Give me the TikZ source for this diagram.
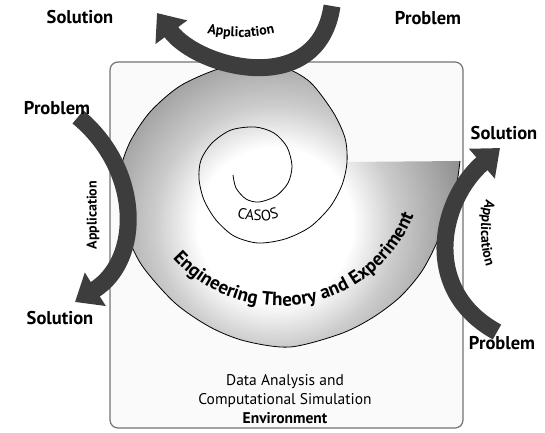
\documentclass[tikz,border=0pt]{standalone}
\usepackage{fontspec}
\setmainfont{PT Sans}
\usepackage{tikz}
\usetikzlibrary{arrows.meta, decorations.text}
\definecolor{arrowgray}{HTML}{3D3D3D}
\pgfdeclareradialshading{shellshade}{\pgfpointorigin}{color(0bp)=(white); color(9bp)=(white); color(14bp)=(black!20); color(19bp)=(black!34); color(23bp)=(black!45); color(50bp)=(black!45)}

\begin{document}
\begin{tikzpicture}[x=1pt, y=-1pt,
    endword/.style={font=\fontsize{18.5}{20}\selectfont\bfseries, inner sep=0pt},
    bigarrow/.style={draw=arrowgray, line width=17pt, -{Triangle[length=24pt, width=38pt]}},
    curvetext/.style={decorate, decoration={text along path, text align=center, text={#1}}}
]
\useasboundingbox (0,0) rectangle (545,432);

\draw[draw=black!55, fill=black!2, line width=1.2pt, rounded corners=8pt] (110,62) rectangle (463,428);

\begin{scope}
\clip plot[smooth] coordinates {(347,162) (345,138) (333,112) (310,82) (283,67) (250,63) (218,69) (180,86) (150,112) (130,142) (120,172) (120,205) (128,237) (143,267) (175,303) (210,327) (245,341) (290,347) (340,334) (372,318) (400,297) (422,271) (438,240) (450,207) (457,182) (460,161)} -- cycle;
\shade[shading=shellshade] (275,225) circle (215);
\end{scope}
\draw[line width=0.8pt] plot[smooth] coordinates {(233,175) (236,188) (246,199) (259,202) (276,196) (288,183) (292,166) (287,147) (274,133) (255,127) (231,130) (212,143) (201,160) (199,179) (204,200) (216,220) (234,236) (258,243) (285,239) (310,227) (330,207) (342,185) (347,162) (345,138) (333,112) (310,82) (283,67) (250,63) (218,69) (180,86) (150,112) (130,142) (120,172) (120,205) (128,237) (143,267) (175,303) (210,327) (245,341) (290,347) (340,334) (372,318) (400,297) (422,271) (438,240) (450,207) (457,182) (460,161)};

\path[curvetext={|\fontsize{15}{16}\selectfont|CASOS}] (258,157) ++(120:64) arc[start angle=120, end angle=60, radius=64];
\path[curvetext={|\fontsize{19}{20}\selectfont\bfseries|Engineering Theory and Experiment}] (280,162) ++(165:144) arc[start angle=165, end angle=-5, radius=144];

\node[align=center, font=\fontsize{15.5}{19}\selectfont] (env) at (285,399) {Data Analysis and\\Computational Simulation\\\textbf{Environment}};

\coordinate (top_tail) at (332,6);
\coordinate (top_tip) at (157,13);
\coordinate (left_tail) at (78,117);
\coordinate (left_tip) at (75,302);
\coordinate (right_tail) at (497,332);
\coordinate (right_tip) at (500,148);

\draw[bigarrow] (top_tail) .. controls (318,100) and (198,68) .. (top_tip);
\draw[bigarrow] (left_tail) .. controls (142,170) and (142,260) .. (left_tip);
\draw[bigarrow] (right_tail) .. controls (420,290) and (440,200) .. (right_tip);

\path[curvetext={|\fontsize{14}{15}\selectfont\bfseries|Application}] (241,-120) ++(115:157) arc[start angle=115, end angle=65, radius=157];
\node[rotate=90, font=\fontsize{14}{15}\selectfont\bfseries] (app_left) at (93,215) {Application};
\path[curvetext={|\fontsize{14}{15}\selectfont\bfseries|Application}] (591,233) ++(210:110) arc[start angle=210, end angle=150, radius=110];

\node[endword] (sol_top) at (80,17) {Solution};
\node[endword] (prob_top) at (428,18) {Problem};
\node[endword] (prob_left) at (57,108) {Problem};
\node[endword] (sol_left) at (60,318) {Solution};
\node[endword] (sol_right) at (504,133) {Solution};
\node[endword] (prob_right) at (502,343) {Problem};

\end{tikzpicture}
\end{document}
